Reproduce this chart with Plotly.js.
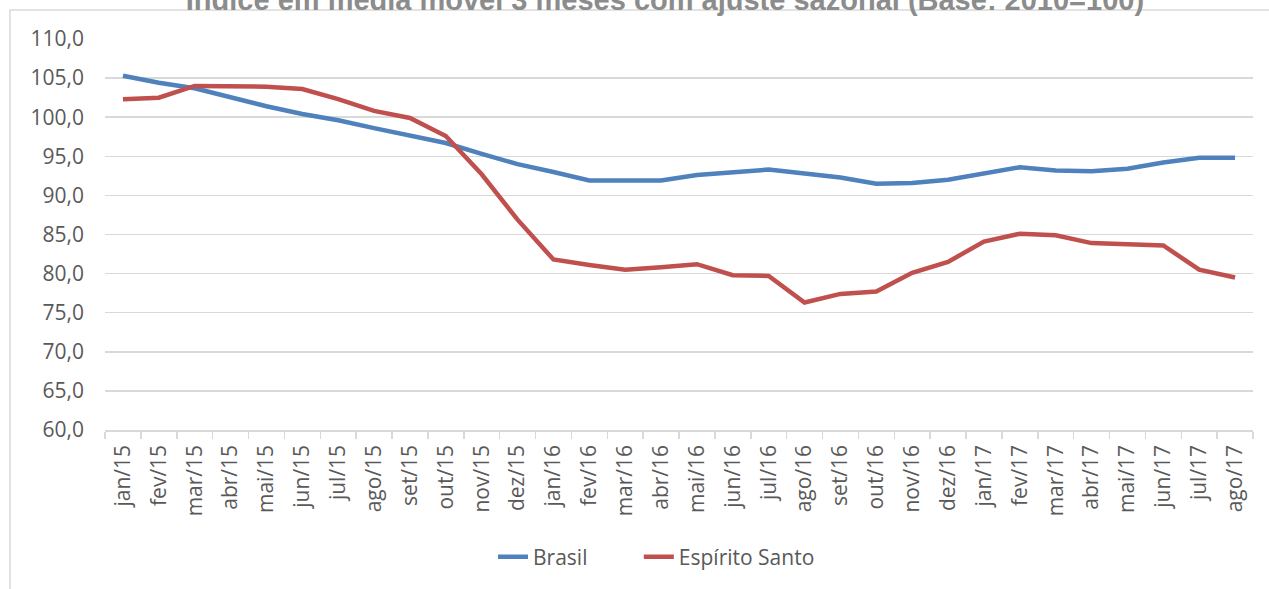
<!DOCTYPE html>
<html>
<head>
<meta charset="utf-8">
<script src="https://cdn.plot.ly/plotly-3.0.1.min.js"></script>
<style>
html,body{margin:0;padding:0;background:#fff;}
#chart{width:1269px;height:589px;}
</style>
</head>
<body>
<div id="chart"></div>
<script>
var months = ["jan/15","fev/15","mar/15","abr/15","mai/15","jun/15","jul/15","ago/15","set/15","out/15","nov/15","dez/15",
              "jan/16","fev/16","mar/16","abr/16","mai/16","jun/16","jul/16","ago/16","set/16","out/16","nov/16","dez/16",
              "jan/17","fev/17","mar/17","abr/17","mai/17","jun/17","jul/17","ago/17"];
var brasil = [105.3,104.4,103.7,102.5,101.4,100.4,99.6,98.6,97.6,96.7,95.3,94.0,
              93.0,91.9,91.9,91.9,92.6,93.0,93.3,92.8,92.3,91.5,91.6,92.0,
              92.8,93.6,93.2,93.1,93.4,94.2,94.8,94.8];
var espiritoSanto = [102.3,102.5,104.0,104.0,103.9,103.6,102.3,100.8,99.9,97.6,92.7,86.9,
              81.8,81.1,80.5,80.8,81.2,79.8,79.7,76.3,77.4,77.7,80.1,81.5,
              84.1,85.1,84.9,83.9,83.7,83.6,80.5,79.5];
var yTicks = [60,65,70,75,80,85,90,95,100,105,110];
var titleText = "Índice em média móvel 3 meses com ajuste sazonal (Base: 2010=100)";

var font = "'Open Sans', 'Noto Sans', sans-serif";
var traces = [
  {x: months, y: brasil, name: "Brasil", type: "scatter", mode: "lines", legend: "legend",
   line: {color: "#4F81BD", width: 4.5}},
  {x: months, y: espiritoSanto, name: "Espírito Santo", type: "scatter", mode: "lines", legend: "legend2",
   line: {color: "#C0504D", width: 4.5}}
];
var legendFont = {family: font, size: 21, color: "#595959"};
var layout = {
  width: 1269, height: 589,
  margin: {l: 105, r: 16, t: 39, b: 159},
  paper_bgcolor: "#ffffff", plot_bgcolor: "#ffffff",
  separators: ",.",
  font: {family: font, color: "#595959", size: 21},
  title: {text: "<b>" + titleText + "</b>", font: {family: "'Liberation Sans', Arial, sans-serif", size: 29, color: "#8c8c8c"},
          x: 0.524, xanchor: "center", y: 1, yanchor: "middle", yref: "container"},
  xaxis: {type: "category", range: [-0.5, months.length - 0.5],
          tickangle: -90, tickson: "boundaries", ticks: "outside", ticklen: 7, tickcolor: "#d9d9d9", tickwidth: 1.5,
          showline: true, linecolor: "#d9d9d9", linewidth: 1.5, showgrid: false, zeroline: false,
          tickfont: {family: font, size: 21, color: "#595959"}, ticklabelstandoff: 5, fixedrange: true},
  yaxis: {range: [60, 110], tickvals: yTicks, tickformat: ".1f", showgrid: true, gridcolor: "#d9d9d9", gridwidth: 1.5,
          zeroline: false, showline: false, ticks: "", ticklabelstandoff: 20,
          tickfont: {family: font, size: 21, color: "#595959"}, fixedrange: true},
  showlegend: true,
  legend: {orientation: "h", x: 0.338, xanchor: "left", y: -0.325, yanchor: "middle",
           font: legendFont, bgcolor: "rgba(0,0,0,0)"},
  legend2: {orientation: "h", x: 0.465, xanchor: "left", y: -0.325, yanchor: "middle",
           font: legendFont, bgcolor: "rgba(0,0,0,0)"},
  shapes: [
    {type: "rect", xref: "paper", yref: "paper", x0: -0.0828, x1: 1.03, y0: -0.45, y1: 1.0742,
     line: {color: "#d9d9d9", width: 1.5}, fillcolor: "rgba(0,0,0,0)", layer: "below"}
  ]
};
Plotly.newPlot("chart", traces, layout, {displayModeBar: false, staticPlot: true});
</script>
</body>
</html>
